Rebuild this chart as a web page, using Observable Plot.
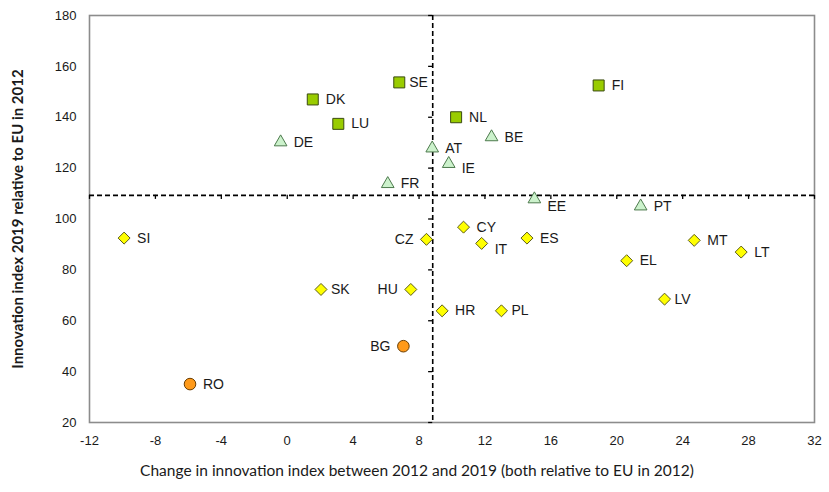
<!DOCTYPE html>
<html>
<head>
<meta charset="utf-8">
<script src="https://cdn.jsdelivr.net/npm/d3@7"></script>
<script src="https://cdn.jsdelivr.net/npm/@observablehq/plot@0.6"></script>
<style>
  html, body { margin: 0; padding: 0; background: #fff; }
</style>
</head>
<body>
<div id="chart"></div>
<script>
// ---- data ----
const countries = ["DK","LU","SE","FI","NL","DE","FR","AT","IE","BE","EE","PT","SI","CZ","CY","IT","ES","MT","LT","EL","LV","HR","PL","SK","HU","BG","RO"];
const change2012to2019 = [1.55,3.1,6.8,18.9,10.25,-0.4,6.1,8.8,9.8,12.4,15.0,21.45,-9.9,8.45,10.7,11.8,14.55,24.7,27.55,20.6,22.9,9.4,13.0,2.05,7.5,7.05,-5.9];
const index2019 = [147.0,137.4,153.7,152.5,140.0,130.2,113.8,127.8,121.7,132.2,107.8,105.0,92.5,92.0,96.8,90.4,92.5,91.6,87.0,83.6,68.5,63.9,63.9,72.3,72.3,50.0,35.1];
const groups = ["leader","leader","leader","leader","leader","strong","strong","strong","strong","strong","strong","strong","moderate","moderate","moderate","moderate","moderate","moderate","moderate","moderate","moderate","moderate","moderate","moderate","moderate","modest","modest"];
const xTicks = [-12,-8,-4,0,4,8,12,16,20,24,28,32];
const yTicks = [20,40,60,80,100,120,140,160,180];
const euChange = 8.83;    // EU average change (vertical dashed line)
const euIndex = 109.3;    // EU average index 2019 (horizontal dashed line)
const xTitle = "Change in innovation index between 2012 and 2019 (both relative to EU in 2012)";
const yTitle = "Innovation index 2019 relative to EU in 2012";

const data = countries.map((c, i) => ({code: c, x: change2012to2019[i], y: index2019[i], group: groups[i]}));

// ---- styles ----
const styles = {
  leader:   {symbol: "square",   r: 6.2, fill: "#99cc00", stroke: "#3a4a10"},
  strong:   {symbol: "triangle", r: 4.7, fill: "#ccf2cc", stroke: "#4d7a4d"},
  moderate: {symbol: "diamond2", r: 5.4, fill: "#ffff00", stroke: "#5c5c1a"},
  modest:   {symbol: "circle",   r: 5.8, fill: "#ff9a1a", stroke: "#6b3d00"}
};
const leftLabels = new Set(["CZ","HU","BG"]);
const closeLabels = new Set(["SE","LV","SK","PL"]);
const lowered = {IE: 5, EE: 7, IT: 6};

const font = "'Liberation Sans', Arial, sans-serif";
const titleFont = "Lato, 'Open Sans', sans-serif";

const dotMarks = Object.keys(styles).map(g => Plot.dot(data.filter(d => d.group === g), {
  x: "x", y: "y", symbol: () => styles[g].symbol, r: styles[g].r,
  fill: styles[g].fill, stroke: styles[g].stroke, strokeWidth: 1
}));

const labelStyle = {x: "x", y: "y", text: "code", fontSize: 14, fill: "#1a1a1a", fontFamily: font};
const labelMarks = [
  Plot.text(data.filter(d => !leftLabels.has(d.code) && !closeLabels.has(d.code) && !(d.code in lowered)), {...labelStyle, textAnchor: "start", dx: 13}),
  Plot.text(data.filter(d => closeLabels.has(d.code)), {...labelStyle, textAnchor: "start", dx: 10}),
  Plot.text(data.filter(d => leftLabels.has(d.code)), {...labelStyle, textAnchor: "end", dx: -13}),
  ...Object.keys(lowered).map(c => Plot.text(data.filter(d => d.code === c), {...labelStyle, textAnchor: "start", dx: 13, dy: lowered[c]}))
];

const fmt = d => String(d);

const chart = Plot.plot({
  width: 829,
  height: 492,
  marginLeft: 89,
  marginRight: 15,
  marginTop: 15,
  marginBottom: 70,
  style: {background: "#fff", fontFamily: font},
  x: {domain: [-12, 32], ticks: xTicks, label: null},
  y: {domain: [20, 180], ticks: yTicks, label: null},
  symbol: {type: "identity"},
  marks: [
    Plot.frame({stroke: "#8c8c8c", strokeWidth: 1.6}),
    Plot.axisX(xTicks, {tickSize: 0, tickPadding: 13, fontSize: 13, fill: "#1a1a1a", label: null, fontFamily: font, tickFormat: fmt}),
    Plot.axisY(yTicks, {tickSize: 0, tickPadding: 13, fontSize: 13, fill: "#1a1a1a", label: null, fontFamily: font, tickFormat: fmt}),
    Plot.ruleX([euChange], {stroke: "#000", strokeWidth: 1.6, strokeDasharray: "5,3"}),
    Plot.ruleY([euIndex], {stroke: "#000", strokeWidth: 1.6, strokeDasharray: "5,3"}),
    // small tick marks along the dashed lines
    Plot.ruleY(yTicks, {y: d => d, x1: euChange - 0.25, x2: euChange, stroke: "#000", strokeWidth: 1.3}),
    Plot.ruleX(xTicks, {x: d => d, y1: euIndex, y2: euIndex - 1.6, stroke: "#000", strokeWidth: 1.3}),
    ...dotMarks,
    ...labelMarks,
    Plot.text([yTitle], {frameAnchor: "left", rotate: -90, dx: -71, text: d => d, textAnchor: "middle", fontSize: 15, fontWeight: "bold", fill: "#1a1a1a", fontFamily: titleFont, lineAnchor: "middle"}),
    Plot.text([xTitle], {frameAnchor: "bottom", dx: -35, dy: 49, text: d => d, textAnchor: "middle", fontSize: 15.5, fill: "#1a1a1a", fontFamily: titleFont, lineAnchor: "middle"})
  ]
});
document.getElementById("chart").appendChild(chart);
</script>
</body>
</html>
